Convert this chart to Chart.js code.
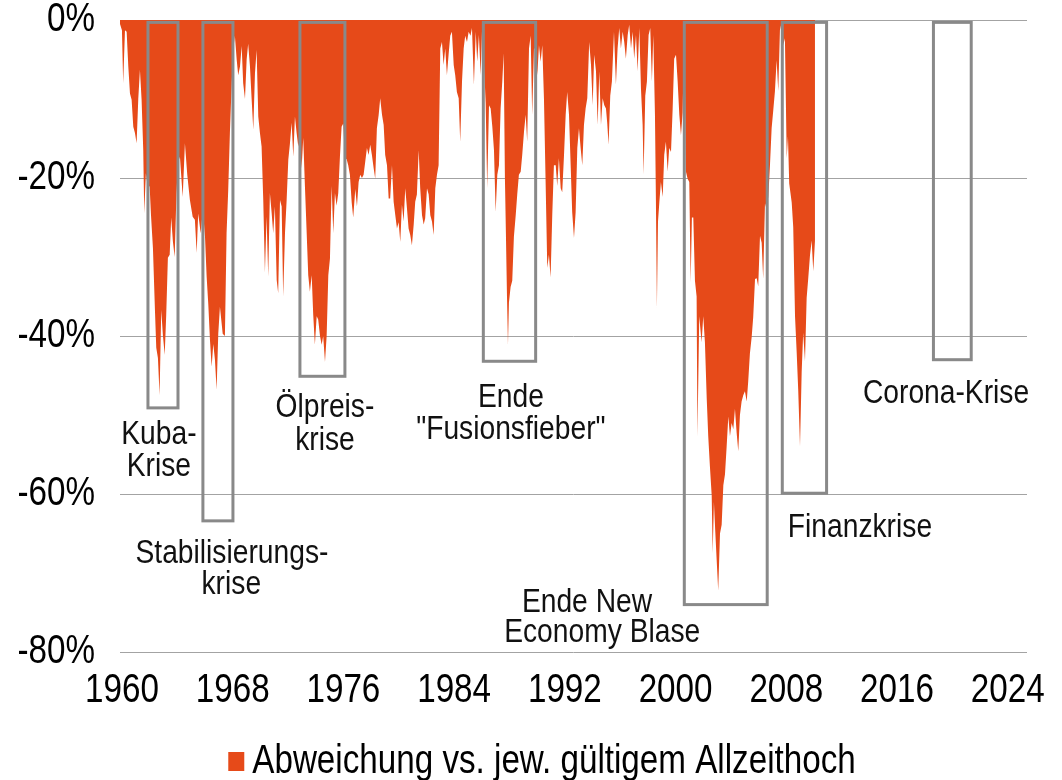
<!DOCTYPE html>
<html lang="de">
<head>
<meta charset="utf-8">
<title>Abweichung vs. Allzeithoch</title>
<script src="https://cdn.jsdelivr.net/npm/chart.js@4/dist/chart.umd.min.js"></script>
<style>
  html, body { margin: 0; padding: 0; background: #fff; }
  #wrap { width: 1062px; height: 780px; position: relative; }
</style>
</head>
<body>
<div id="wrap"><canvas id="myChart"></canvas></div>
<script>
// Zeitachse (Dezimaljahre) und Abweichung vom jeweiligen Allzeithoch in %
const years = [
  1959.86,1960.00,1960.09,1960.22,1960.34,1960.46,1960.58,1960.70,1960.82,1960.94,
  1961.06,1961.18,1961.30,1961.42,1961.54,1961.61,1961.73,1961.88,
  1962.00,1962.10,1962.24,1962.38,1962.48,1962.60,1962.72,1962.84,1962.96,
  1963.09,1963.20,1963.32,1963.45,1963.56,1963.68,1963.81,1963.94,
  1964.05,1964.19,1964.39,1964.55,1964.72,1964.91,
  1965.11,1965.27,1965.40,1965.51,1965.69,1965.85,
  1966.00,1966.12,1966.24,1966.36,1966.48,1966.60,1966.72,1966.84,1966.96,
  1967.08,1967.28,1967.44,1967.56,1967.68,1967.80,1967.93,
  1968.04,1968.16,1968.29,1968.40,1968.53,1968.65,1968.76,1968.89,
  1969.01,1969.12,1969.25,1969.37,1969.49,1969.61,1969.73,1969.85,1969.97,
  1970.09,1970.21,1970.33,1970.45,1970.57,1970.69,1970.82,1970.93,
  1971.05,1971.18,1971.29,1971.42,1971.54,1971.65,1971.78,1971.90,
  1972.02,1972.14,1972.26,1972.38,1972.50,1972.62,1972.74,1972.86,1972.98,
  1973.10,1973.22,1973.34,1973.46,1973.58,1973.71,1973.82,1973.94,
  1974.07,1974.18,1974.31,1974.43,1974.54,1974.67,1974.79,1974.91,
  1975.03,1975.15,1975.27,1975.39,1975.51,1975.63,1975.75,1975.87,1975.99,
  1976.11,1976.23,1976.35,1976.47,1976.60,1976.71,1976.86,1976.98,
  1977.10,1977.22,1977.34,1977.46,1977.58,1977.70,1977.82,1977.94,
  1978.06,1978.19,1978.30,1978.42,1978.55,1978.66,1978.79,1978.91,
  1979.02,1979.15,1979.27,1979.38,1979.51,1979.63,1979.75,1979.87,1979.99,
  1980.11,1980.23,1980.35,1980.47,1980.59,1980.71,1980.83,1980.95,
  1981.08,1981.19,1981.31,1981.44,1981.55,1981.68,1981.80,1981.91,
  1982.04,1982.16,1982.28,1982.40,1982.52,1982.64,1982.76,1982.88,
  1983.00,1983.12,1983.24,1983.36,1983.48,1983.60,1983.72,1983.84,1983.97,
  1984.08,1984.20,1984.33,1984.44,1984.57,1984.69,1984.80,1984.93,
  1985.05,1985.18,1985.29,1985.43,1985.56,1985.67,1985.79,1985.92,
  1986.03,1986.16,1986.28,1986.39,1986.52,1986.64,1986.76,1986.88,
  1987.00,1987.12,1987.24,1987.36,1987.48,1987.58,1987.67,1987.74,1987.82,1987.89,1987.96,
  1988.08,1988.20,1988.32,1988.45,1988.56,1988.68,1988.81,1988.92,
  1989.05,1989.17,1989.28,1989.41,1989.53,1989.64,1989.77,1989.89,
  1990.01,1990.13,1990.25,1990.37,1990.49,1990.61,1990.73,1990.85,1990.97,
  1991.09,1991.21,1991.34,1991.45,1991.57,1991.70,1991.81,1991.94,
  1992.06,1992.17,1992.30,1992.42,1992.53,1992.66,1992.78,1992.90,
  1993.02,1993.14,1993.26,1993.38,1993.50,1993.62,1993.76,1993.89,
  1994.01,1994.12,1994.25,1994.37,1994.49,1994.61,1994.73,1994.85,1994.97,
  1995.06,1995.16,1995.28,1995.40,1995.55,1995.69,1995.81,1995.93,
  1996.05,1996.18,1996.29,1996.41,1996.54,1996.65,1996.78,1996.90,
  1997.01,1997.14,1997.26,1997.38,1997.50,1997.62,1997.69,1997.81,1997.93,
  1998.05,1998.17,1998.29,1998.39,1998.51,1998.58,1998.65,1998.73,1998.83,1998.94,
  1999.07,1999.18,1999.30,1999.43,1999.54,1999.67,1999.79,1999.90,
  2000.03,2000.15,2000.27,2000.39,2000.51,2000.63,2000.75,2000.87,2000.99,
  2001.09,2001.18,2001.28,2001.40,2001.52,2001.58,2001.71,2001.88,
  2002.00,2002.12,2002.25,2002.36,2002.48,2002.61,2002.68,2002.77,2002.87,2002.97,
  2003.08,2003.21,2003.33,2003.45,2003.57,2003.69,2003.81,2003.93,
  2004.05,2004.17,2004.29,2004.41,2004.53,2004.65,2004.77,2004.89,
  2005.01,2005.14,2005.25,2005.37,2005.50,2005.61,2005.74,2005.86,2005.97,
  2006.10,2006.22,2006.33,2006.46,2006.58,2006.70,2006.82,2006.94,
  2007.06,2007.18,2007.30,2007.42,2007.54,2007.66,2007.78,2007.90,
  2008.03,2008.12,2008.21,2008.39,2008.50,2008.63,2008.75,2008.86,2008.99,
  2009.11,2009.22,2009.35,2009.47,2009.59,2009.71,2009.83,2009.95,
  2010.07
];
const drawdown = [
  -0.5,-1.3,-8,-1.3,-1.5,-5.9,-9.3,-10.1,-13.5,-14.3,
  -15.6,-10,-6.3,-10.1,-16.5,-24.5,-19.4,-21.3,
  -21,-24.7,-28.9,-36.5,-41.5,-42.8,-47.5,-36.7,-39.9,
  -42.4,-37.3,-30.1,-29.7,-25,-28,-30,-22,
  -18,-17.3,-22.4,-15.6,-19.6,-22.8,
  -24.9,-25.3,-29.5,-24.5,-27,-24,
  -27.4,-32.5,-36,-40.5,-43.9,-41,-43,-46.8,-39.7,
  -36.3,-39.7,-40,-27,-21.5,-14.3,-8,
  -3.8,-2,-5,-7,-5.9,-3.3,-8,-10,
  -5,-3,-5.9,-10,-13.9,-6.8,-3.8,-12.2,-14.3,
  -16,-22.8,-32,-24.9,-32.5,-21.9,-24.5,-27,
  -23.6,-32.9,-34.6,-22.8,-23.6,-35,-27,-22.8,
  -17.7,-15.6,-13,-17.3,-12.2,-14.3,-16,-15,-18.8,
  -14.9,-21,-26.6,-32.3,-34.4,-32.3,-37.3,-41.1,
  -37.5,-37.9,-40,-41.1,-40,-43.3,-40,-32.3,
  -30.2,-21,-27,-21.9,-23.5,-21.9,-17.3,-13.5,-13.1,
  -17.6,-17.6,-18.4,-19.6,-23.1,-25,-21.4,-23.6,
  -20.5,-19.6,-20,-19.6,-17.9,-16.2,-17.1,-15.8,
  -17.1,-18.8,-20.1,-13.7,-12,-9.9,-12,-13.3,
  -17.1,-18.4,-22.6,-22.6,-18.4,-23,-24.7,-26.4,-25.6,
  -28.1,-23.4,-25.5,-21.3,-23.8,-26.4,-27.2,-28.5,
  -25.9,-23,-22.1,-16.5,-21.3,-24.7,-25.9,-25.1,
  -21.3,-22.1,-24.7,-25.5,-27.2,-21.3,-19.6,-18.4,
  -3.6,-2.8,-5.7,-3.6,-7,-4.4,-2,-1.5,-5.7,
  -7,-9.1,-9.9,-15.4,-7.8,-3.6,-2,-2.8,
  -1.5,-2,-1,-8.2,-1.5,-5.3,-1.9,-7,
  -0.5,-5.7,-10.5,-21.3,-10.8,-11.2,-13.5,-16.5,
  -24.3,-19.6,-18.4,-11.2,-7.8,-4.2,-20,-26.9,-35,-41.1,-35.8,
  -33.8,-33,-27.4,-24.7,-22.1,-19.6,-19.2,-17.1,
  -14.1,-12,-15.4,-3.6,-2,-12,-3.6,-3.6,
  -7,-3.2,-5.3,-3.2,-9.9,-20.5,-31.4,-29.7,-32.6,
  -24.7,-18.4,-18.4,-21,-17.5,-21.3,-21.8,-17.1,
  -12,-9.1,-12,-18.4,-24.3,-27.6,-24.3,-16.2,
  -13.7,-16.2,-18.4,-13.3,-11.2,-9.9,-2.8,-5.7,
  -10.8,-4.4,-6.5,-13.3,-6.5,-13.3,-9.9,-10.8,-11.2,
  -13,-15.8,-9.6,-7.8,-1.5,-8.2,-3.6,-1,
  -3.6,-1.5,-2.8,-4.9,-1.9,-0.6,-3.6,-1.5,
  -4.9,-1.9,-6.5,-1,-8.7,-13.3,-19.6,-9.6,-7.8,
  -1.9,-1,-7.8,-1.9,-12,-23,-36.5,-25.5,-23,-20.5,
  -22.4,-17.1,-15.4,-19.2,-16.2,-16.7,-11.2,-4.9,
  -4.4,-7.8,-12,-14.6,-11.7,-0.5,-19.2,-20.1,-20.5,
  -33.2,-25,-25,-33,-35,-52.7,-37.5,-40.8,
  -37.5,-40.8,-47.9,-52.7,-56.5,-60.2,-67.5,-61,-64.8,-68.4,
  -72.2,-65,-63.9,-58.9,-57.5,-54,-50.2,-52.7,
  -51,-51.8,-49.2,-52.2,-54.6,-50,-48.3,-47.5,
  -47,-48.3,-45.7,-42.2,-40.1,-37.6,-32.8,-32.7,-33.7,
  -27.3,-28.2,-32.8,-23.2,-24,-22.3,-18.4,-13.7,
  -11.4,-9,-5.1,-9,-1.3,-0.3,-3.2,-2.3,
  -17.5,-14.7,-20.7,-23.1,-26.2,-37.5,-42.1,-46.8,-54,
  -44.6,-39.6,-43.2,-35.2,-32.6,-29.8,-27.9,-31.8,
  -28
];

// Krisen-Rahmen: Beginn, Ende (Jahr) und Tiefpunkt des Rahmens (%)
const crisisStart = [1961.88, 1965.85, 1972.86, 1986.11, 2000.63, 2007.71, 2018.63];
const crisisEnd   = [1964.05, 1968.02, 1976.11, 1989.89, 2006.62, 2010.91, 2021.36];
const crisisLow   = [-49.1, -63.4, -45.1, -43.2, -74.0, -59.9, -43.0];
const boxTop = -0.3;

// Beschriftungen der Krisen (eine Zeile je Eintrag)
const labelText = ['Kuba-', 'Krise', 'Stabilisierungs-', 'krise', 'Ölpreis-', 'krise',
  'Ende', '"Fusionsfieber"', 'Ende New', 'Economy Blase', 'Finanzkrise', 'Corona-Krise'];
const labelYear = [1962.67, 1962.67, 1967.95, 1967.9, 1974.67, 1974.67,
  1988.1, 1988.1, 1993.6, 1994.7, 2013.32, 2019.54];
const labelPct = [-52.5, -56.5, -67.5, -71.5, -49.1, -53.2,
  -47.8, -51.9, -73.7, -77.6, -64.2, -47.3];

const tickYears = [1960, 1968, 1976, 1984, 1992, 2000, 2008, 2016, 2024];
const legendLabel = 'Abweichung vs. jew. gültigem Allzeithoch';

const FONT = "'Liberation Sans', Arial, sans-serif";
const SQUEEZE = 0.83;   // Schrift im Original schmal gesetzt
const ORANGE = '#E64A19';

function narrowText(ctx, text, x, y, size, align) {
  ctx.save();
  ctx.font = size + 'px ' + FONT;
  ctx.translate(x, y);
  ctx.scale(SQUEEZE, 1);
  ctx.textAlign = align;
  ctx.textBaseline = 'middle';
  ctx.fillText(text, 0, 0);
  ctx.restore();
}

const crisisPlugin = {
  id: 'crises',
  afterDatasetsDraw(chart) {
    const ctx = chart.ctx;
    const x = chart.scales.x;
    const y = chart.scales.y;
    ctx.save();
    ctx.strokeStyle = '#898989';
    ctx.lineWidth = 3;
    crisisStart.forEach((s, i) => {
      const x0 = x.getPixelForValue(s);
      const x1 = x.getPixelForValue(crisisEnd[i]);
      const y0 = y.getPixelForValue(boxTop);
      const y1 = y.getPixelForValue(crisisLow[i]);
      ctx.strokeRect(x0, y0, x1 - x0, y1 - y0);
    });
    ctx.fillStyle = '#111';
    labelText.forEach((t, i) => {
      narrowText(ctx, t, x.getPixelForValue(labelYear[i]), y.getPixelForValue(labelPct[i]), 34, 'center');
    });
    ctx.restore();
  }
};

// Achsenbeschriftung und Legende in schmaler Schrift
const axisTextPlugin = {
  id: 'axisText',
  afterDraw(chart) {
    const ctx = chart.ctx;
    const x = chart.scales.x;
    const y = chart.scales.y;
    const area = chart.chartArea;
    ctx.save();
    ctx.fillStyle = '#000';
    x.ticks.forEach(t => {
      narrowText(ctx, String(t.value), x.getPixelForValue(t.value), area.bottom + 39, 40, 'center');
    });
    y.ticks.forEach(t => {
      narrowText(ctx, t.value + '%', area.left - 25, y.getPixelForValue(t.value), 40, 'right');
    });
    // Legende
    ctx.font = '40px ' + FONT;
    const textW = ctx.measureText(legendLabel).width * SQUEEZE;
    const boxW = 16, gap = 8;
    const total = boxW + gap + textW;
    const left = chart.width / 2 + 11 - total / 2;
    const cy = 762;
    ctx.fillStyle = ORANGE;
    ctx.fillRect(left, cy - 10, boxW, 19);
    ctx.fillStyle = '#000';
    narrowText(ctx, legendLabel, left + boxW + gap, cy, 40, 'left');
    ctx.restore();
  }
};

const ctx = document.getElementById('myChart');
new Chart(ctx, {
  type: 'line',
  data: {
    datasets: [{
      label: legendLabel,
      data: years.map((yr, i) => ({ x: yr, y: drawdown[i] })),
      backgroundColor: ORANGE,
      borderColor: ORANGE,
      borderWidth: 0,
      pointRadius: 0,
      tension: 0,
      fill: 'origin'
    }]
  },
  options: {
    responsive: true,
    maintainAspectRatio: false,
    animation: false,
    devicePixelRatio: 1,
    layout: { padding: { top: 20, right: 35, bottom: 0, left: 0 } },
    plugins: {
      tooltip: { enabled: false },
      legend: { display: false }
    },
    scales: {
      x: {
        type: 'linear',
        min: 1959.86,
        max: 2025.39,
        grid: { display: false },
        border: { display: false },
        afterBuildTicks: scale => { scale.ticks = tickYears.map(v => ({ value: v })); },
        afterFit: scale => { scale.height = 128; scale.paddingLeft = 0; scale.paddingRight = 0; },
        ticks: { display: false }
      },
      y: {
        min: -80,
        max: 0,
        grid: { color: '#a3a3a3', lineWidth: 1, drawTicks: false },
        border: { display: false },
        afterFit: scale => { scale.width = 120; scale.paddingTop = 0; scale.paddingBottom = 0; },
        ticks: { stepSize: 20, display: false }
      }
    }
  },
  plugins: [crisisPlugin, axisTextPlugin]
});
</script>
</body>
</html>
